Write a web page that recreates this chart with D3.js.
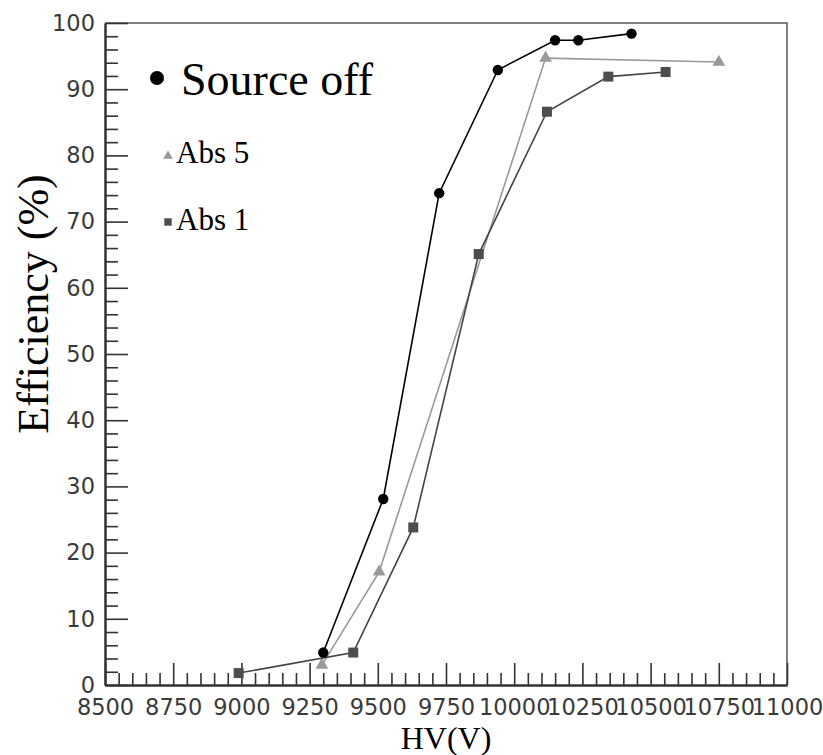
<!DOCTYPE html>
<html>
<head>
<meta charset="utf-8">
<script src="https://cdn.jsdelivr.net/npm/d3@7/dist/d3.min.js"></script>
<style>
  html, body { margin: 0; padding: 0; background: #fff; }
  svg { display: block; }
  .tick text { font-family: "DejaVu Sans", sans-serif; font-size: 22.5px; fill: #3a3a3a; }
  .serif { font-family: "Liberation Serif", "Times New Roman", serif; fill: #000; }
</style>
</head>
<body>
<svg id="chart" width="823" height="755"></svg>
<script>
// Efficiency vs high voltage for three configurations
const hvSourceOff  = [9300, 9520, 9725, 9940, 10150, 10235, 10430];
const effSourceOff = [4.9, 28.1, 74.3, 92.9, 97.4, 97.4, 98.4];

const hvAbs5  = [9295, 9505, 10115, 10750];
const effAbs5 = [3.0, 17.1, 94.7, 94.1];

const hvAbs1  = [8990, 9410, 9630, 9870, 10120, 10345, 10555];
const effAbs1 = [1.8, 4.9, 23.8, 65.1, 86.6, 91.9, 92.6];

const xMajorTicks = [8500, 8750, 9000, 9250, 9500, 9750, 10000, 10250, 10500, 10750, 11000];
const yMajorTicks = [0, 10, 20, 30, 40, 50, 60, 70, 80, 90, 100];
const xMinorTicks = d3.range(8500, 11001, 50).filter(v => v % 250 !== 0);
const yMinorTicks = d3.range(0, 101, 2).filter(v => v % 10 !== 0);

const plotLeft = 105, plotRight = 787, plotTop = 23, plotBottom = 685;
const svg = d3.select("#chart");

const x = d3.scaleLinear().domain([8500, 11000]).range([plotLeft, plotRight]);
const y = d3.scaleLinear().domain([0, 100]).range([plotBottom, plotTop]);

const axisColor = "#333";
const plain = d3.format("d");

// frame: top and right edges
svg.append("path")
  .attr("d", `M${plotLeft},${plotTop}H${plotRight}V${plotBottom}`)
  .attr("fill", "none").attr("stroke", "#555").attr("stroke-width", 1.5);

// y axis: major ticks with labels, minor ticks inside the plot
svg.append("g").attr("transform", `translate(${plotLeft},0)`)
  .call(d3.axisLeft(y).tickValues(yMajorTicks).tickFormat(plain)
    .tickSize(-23).tickSizeOuter(0).tickPadding(10));
svg.append("g").attr("transform", `translate(${plotLeft},0)`)
  .call(d3.axisLeft(y).tickValues(yMinorTicks).tickSize(-13).tickSizeOuter(0).tickFormat(""));

// x axis
svg.append("g").attr("transform", `translate(0,${plotBottom})`)
  .call(d3.axisBottom(x).tickValues(xMajorTicks).tickFormat(plain)
    .tickSize(-22).tickSizeOuter(0).tickPadding(14));
svg.append("g").attr("transform", `translate(0,${plotBottom})`)
  .call(d3.axisBottom(x).tickValues(xMinorTicks).tickSize(-12).tickSizeOuter(0).tickFormat(""));

svg.selectAll(".domain").attr("stroke", axisColor).attr("stroke-width", 2);
svg.selectAll(".tick line").attr("stroke", axisColor).attr("stroke-width", 1.6);

// series
const series = [
  { hv: hvAbs5, eff: effAbs5, line: "#9a9a9a", fill: "#999", shape: d3.symbolTriangle, size: 70 },
  { hv: hvAbs1, eff: effAbs1, line: "#444", fill: "#4d4d4d", shape: d3.symbolSquare, size: 100 },
  { hv: hvSourceOff, eff: effSourceOff, line: "#000", fill: "#000", shape: d3.symbolCircle, size: 85 }
];

const line = d3.line().x(d => x(d[0])).y(d => y(d[1]));

series.forEach(s => {
  const pts = s.hv.map((v, i) => [v, s.eff[i]]);
  svg.append("path").datum(pts)
    .attr("d", line).attr("fill", "none")
    .attr("stroke", s.line).attr("stroke-width", 1.6);
  svg.append("g").selectAll("path").data(pts).join("path")
    .attr("transform", d => `translate(${x(d[0])},${y(d[1])})`)
    .attr("d", d3.symbol().type(s.shape).size(s.size))
    .attr("fill", s.fill);
});

// legend
svg.append("circle").attr("cx", 157).attr("cy", 78).attr("r", 7).attr("fill", "#000");
svg.append("text").attr("class", "serif").attr("x", 181).attr("y", 95)
  .attr("font-size", 46).text("Source off");

svg.append("path").attr("transform", "translate(168,156)")
  .attr("d", d3.symbol().type(d3.symbolTriangle).size(40)).attr("fill", "#999");
svg.append("text").attr("class", "serif").attr("x", 176).attr("y", 163)
  .attr("font-size", 31).text("Abs 5");

svg.append("path").attr("transform", "translate(168,222)")
  .attr("d", d3.symbol().type(d3.symbolSquare).size(55)).attr("fill", "#4d4d4d");
svg.append("text").attr("class", "serif").attr("x", 176).attr("y", 230)
  .attr("font-size", 31).text("Abs 1");

// axis titles
svg.append("text").attr("class", "serif")
  .attr("x", (plotLeft + plotRight) / 2).attr("y", 749)
  .attr("text-anchor", "middle").attr("font-size", 32).text("HV(V)");

svg.append("text").attr("class", "serif")
  .attr("transform", "translate(48,304) rotate(-90)")
  .attr("text-anchor", "middle").attr("font-size", 44).text("Efficiency (%)");
</script>
</body>
</html>
